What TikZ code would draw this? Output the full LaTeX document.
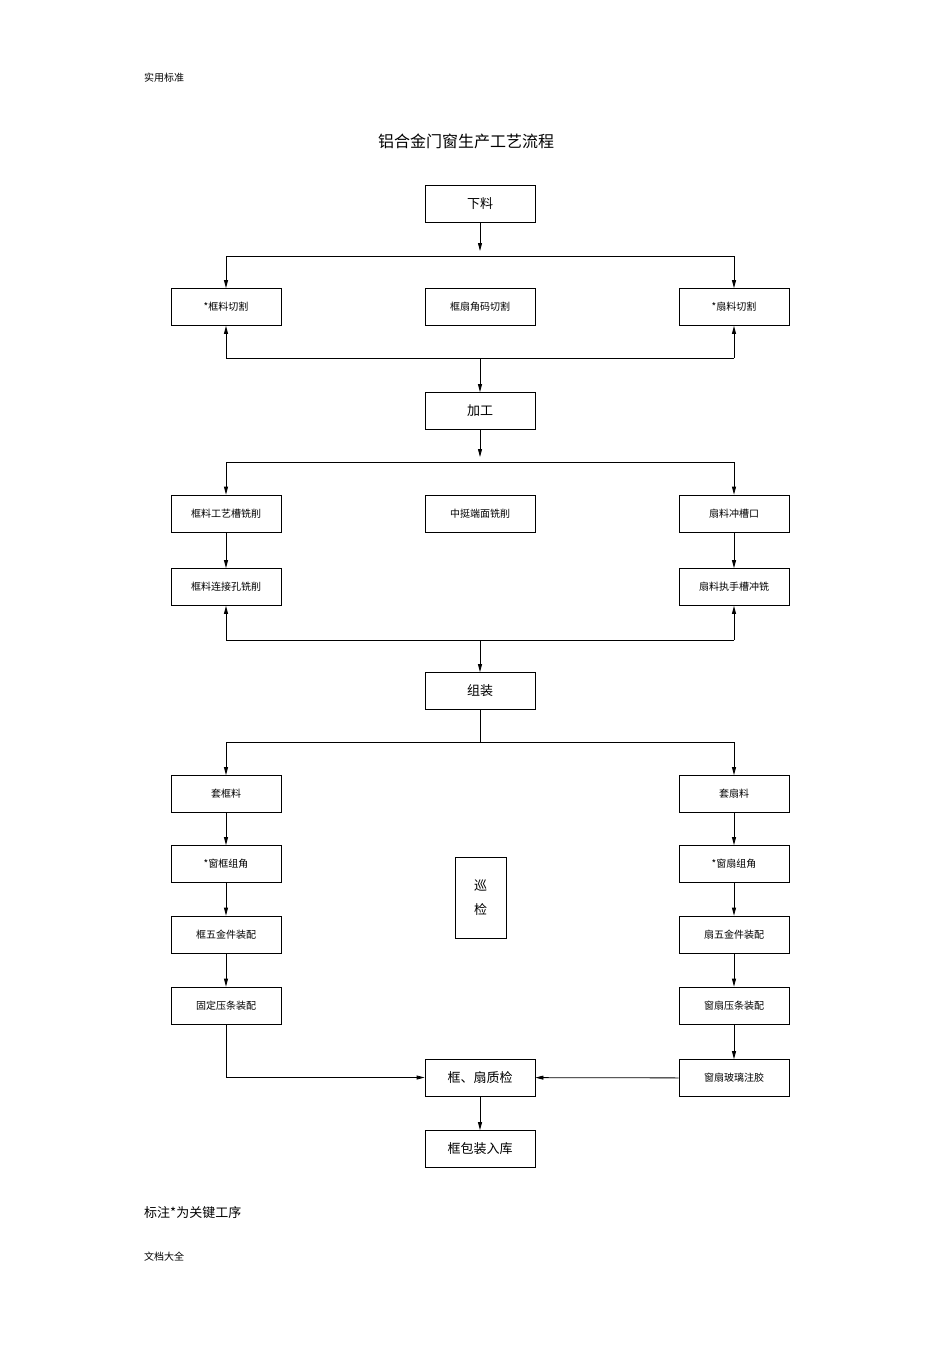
\documentclass[tikz,border=0pt]{standalone}
\usepackage{fontspec}
\setmainfont{Noto Sans CJK SC}
\usetikzlibrary{arrows.meta}
\begin{document}
\begin{tikzpicture}[x=1pt,y=-1pt,
 box/.style={draw,line width=0.8pt,minimum width=110pt,minimum height=37pt,inner sep=0pt,font=\fontsize{10}{12}\selectfont},
 big/.style={box,font=\fontsize{13}{15}\selectfont},
 ln/.style={line width=0.8pt},
 ar/.style={ln,-{Triangle[length=8pt,width=4pt]}},
 lab/.style={anchor=west,inner sep=0pt}]
\useasboundingbox (0,0) rectangle (950,1345);
\node[lab,font=\fontsize{10}{12}\selectfont] (hd) at (144,78) {实用标准};
\node[font=\fontsize{16}{18}\selectfont] (title) at (466,141) {铝合金门窗生产工艺流程};
\node[lab,font=\fontsize{13}{15}\selectfont] (note) at (144,1213) {标注*为关键工序};
\node[lab,font=\fontsize{10}{12}\selectfont] (ft) at (144,1257) {文档大全};

\node[big] (xl) at (480,203.5) {下料};
\node[box] (a1) at (226,307) {*框料切割};
\node[box] (a2) at (480,307) {框扇角码切割};
\node[box] (a3) at (734,307) {*扇料切割};
\node[big] (jg) at (480,411) {加工};
\node[box] (b1) at (226,513.5) {框料工艺槽铣削};
\node[box] (b2) at (480,513.5) {中挺端面铣削};
\node[box] (b3) at (734,513.5) {扇料冲槽口};
\node[box] (c1) at (226,587) {框料连接孔铣削};
\node[box] (c3) at (734,587) {扇料执手槽冲铣};
\node[big] (zz) at (480,691) {组装};
\node[box] (d1) at (226,794) {套框料};
\node[box] (d3) at (734,794) {套扇料};
\node[box] (e1) at (226,864) {*窗框组角};
\node[box] (e3) at (734,864) {*窗扇组角};
\node[box] (f1) at (226,934.5) {框五金件装配};
\node[box] (f3) at (734,934.5) {扇五金件装配};
\node[box] (g1) at (226,1005.5) {固定压条装配};
\node[box] (g3) at (734,1005.5) {窗扇压条装配};
\node[box] (h3) at (734,1078) {窗扇玻璃注胶};
\node[big] (zj) at (480,1077.5) {框、扇质检};
\node[big] (rk) at (480,1149) {框包装入库};
\node[draw,line width=0.8pt,minimum width=51pt,minimum height=81pt,inner sep=0pt,align=center,font=\fontsize{13}{24}\selectfont] (xj) at (480.5,897.5) {巡\\检};

\coordinate (s1) at (480,256);
\draw[ar,shorten >=5pt] (xl) -- (s1);
\draw[ln] (a1.north|-s1) -- (a3.north|-s1);
\draw[ar] (a1.north|-s1) -- (a1);
\draw[ar] (a3.north|-s1) -- (a3);
\coordinate (s2) at (480,358);
\draw[ln] (a1.south|-s2) -- (a3.south|-s2);
\draw[ar] (a1.south|-s2) -- (a1);
\draw[ar] (a3.south|-s2) -- (a3);
\draw[ar] (s2) -- (jg);

\coordinate (s3) at (480,462);
\draw[ar,shorten >=5pt] (jg) -- (s3);
\draw[ln] (b1.north|-s3) -- (b3.north|-s3);
\draw[ar] (b1.north|-s3) -- (b1);
\draw[ar] (b3.north|-s3) -- (b3);
\draw[ar] (b1) -- (c1);
\draw[ar] (b3) -- (c3);
\coordinate (s4) at (480,640);
\draw[ln] (c1.south|-s4) -- (c3.south|-s4);
\draw[ar] (c1.south|-s4) -- (c1);
\draw[ar] (c3.south|-s4) -- (c3);
\draw[ar] (s4) -- (zz);

\coordinate (s5) at (480,742);
\draw[ln] (zz) -- (s5);
\draw[ln] (d1.north|-s5) -- (d3.north|-s5);
\draw[ar] (d1.north|-s5) -- (d1);
\draw[ar] (d3.north|-s5) -- (d3);
\draw[ar] (d1) -- (e1);
\draw[ar] (e1) -- (f1);
\draw[ar] (f1) -- (g1);
\draw[ar] (d3) -- (e3);
\draw[ar] (e3) -- (f3);
\draw[ar] (f3) -- (g3);
\draw[ar] (g3) -- (h3);
\draw[ar] (g1.south) |- (zj.west);
\draw[ar] (h3) -- (zj);
\draw[ar] (zj) -- (rk);
\end{tikzpicture}
\end{document}
